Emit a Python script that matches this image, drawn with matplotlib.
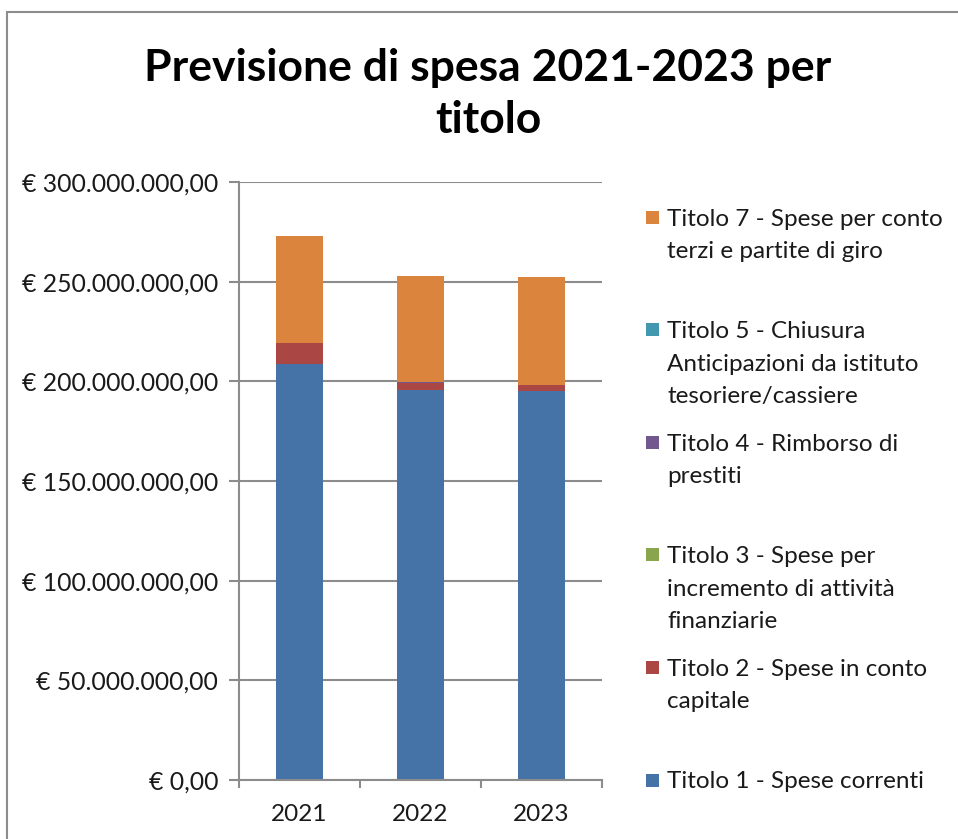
import numpy as np
import pandas as pd
import matplotlib
matplotlib.use("Agg")
import matplotlib.pyplot as plt
from matplotlib.ticker import FuncFormatter, MultipleLocator
from matplotlib.patches import Rectangle

plt.rcParams['font.family'] = ['Lato', 'DejaVu Sans']

#data (euro)
anni = ['2021', '2022', '2023']
titolo_1 = [208.7e6, 195.7e6, 195.0e6]
titolo_2 = [10.3e6, 3.6e6, 3.2e6]
titolo_3 = [0.0, 0.0, 0.0]
titolo_4 = [0.4e6, 0.2e6, 0.1e6]
titolo_5 = [0.0, 0.0, 0.0]
titolo_7 = [53.6e6, 53.5e6, 53.9e6]

serie = ['Titolo 1 - Spese correnti',
         'Titolo 2 - Spese in conto\ncapitale',
         'Titolo 3 - Spese per\nincremento di attività\nfinanziarie',
         'Titolo 4 - Rimborso di\nprestiti',
         'Titolo 5 - Chiusura\nAnticipazioni da istituto\ntesoriere/cassiere',
         'Titolo 7 - Spese per conto\nterzi e partite di giro']
colori = ['#4572A7', '#AA4643', '#89A54E', '#71588F', '#4198AF', '#DB843D']

W, H = 958, 839
fig = plt.figure(figsize=(W/100, H/100), dpi=100)

def fx(px):
    return px/W

def fy(py):
    return 1 - py/H

#outer chart frame
fig.patches.append(Rectangle((fx(7), fy(900)), fx(1000), fy(12) - fy(900),
                             transform=fig.transFigure, fill=False,
                             edgecolor='#8c8c8c', linewidth=1.5))

ax = fig.add_axes([fx(239), fy(780), fx(602) - fx(239), fy(182) - fy(780)])

df = pd.DataFrame({'t1': titolo_1, 't2': titolo_2, 't3': titolo_3,
                   't4': titolo_4, 't5': titolo_5, 't7': titolo_7}, index=anni)

x = np.arange(len(anni))
bottom = np.zeros(len(anni))
for col, c in zip(df.columns, colori):
    ax.bar(x, df[col].values, 0.39, bottom=bottom, color=c, zorder=3)
    bottom = bottom + df[col].values

ax.set_xlim(-0.5, 2.5)
ax.set_ylim(0, 300e6)
ax.yaxis.set_major_locator(MultipleLocator(50e6))

def euro(v, pos):
    s = '{:,.2f}'.format(v)
    s = s.replace(',', 'X').replace('.', ',').replace('X', '.')
    return '€ ' + s

ax.yaxis.set_major_formatter(FuncFormatter(euro))
ax.set_xticks(x)
ax.set_xticklabels(anni)
ax.set_xticks([-0.5, 0.5, 1.5, 2.5], minor=True)
ax.tick_params(axis='x', which='major', length=0, pad=17, labelsize=17.5, colors='#1a1a1a')
ax.tick_params(axis='x', which='minor', length=6, width=1.5, color='#8c8c8c')
ax.tick_params(axis='y', length=7, width=1.5, color='#8c8c8c', pad=8, labelsize=17.8,
               labelcolor='#1a1a1a')

ax.grid(axis='y', color='#8c8c8c', linewidth=1.5, zorder=0)
for side in ['top', 'right']:
    ax.spines[side].set_visible(False)
for side in ['left', 'bottom']:
    ax.spines[side].set_color('#8c8c8c')
    ax.spines[side].set_linewidth(1.5)
ax.spines['bottom'].set_zorder(4)

fig.text(fx(488), fy(68), 'Previsione di spesa 2021-2023 per', ha='center',
         va='center', fontsize=32, fontweight='bold')
fig.text(fx(488), fy(120), 'titolo', ha='center', va='center', fontsize=32,
         fontweight='bold')

#legend, reversed order like the original
for i, (lab, c) in enumerate(zip(serie[::-1], colori[::-1])):
    y0 = 217 + i*112.6
    fig.patches.append(Rectangle((fx(646), fy(y0 + 6.5)), fx(13), fy(y0 - 6.5) - fy(y0 + 6.5),
                                 transform=fig.transFigure, facecolor=c, edgecolor='none'))
    for j, riga in enumerate(lab.split('\n')):
        fig.text(fx(667), fy(y0 + j*32.5), riga, ha='left', va='center_baseline',
                 fontsize=17.5, color='#1a1a1a')

fig.savefig('out.png', dpi=100)
